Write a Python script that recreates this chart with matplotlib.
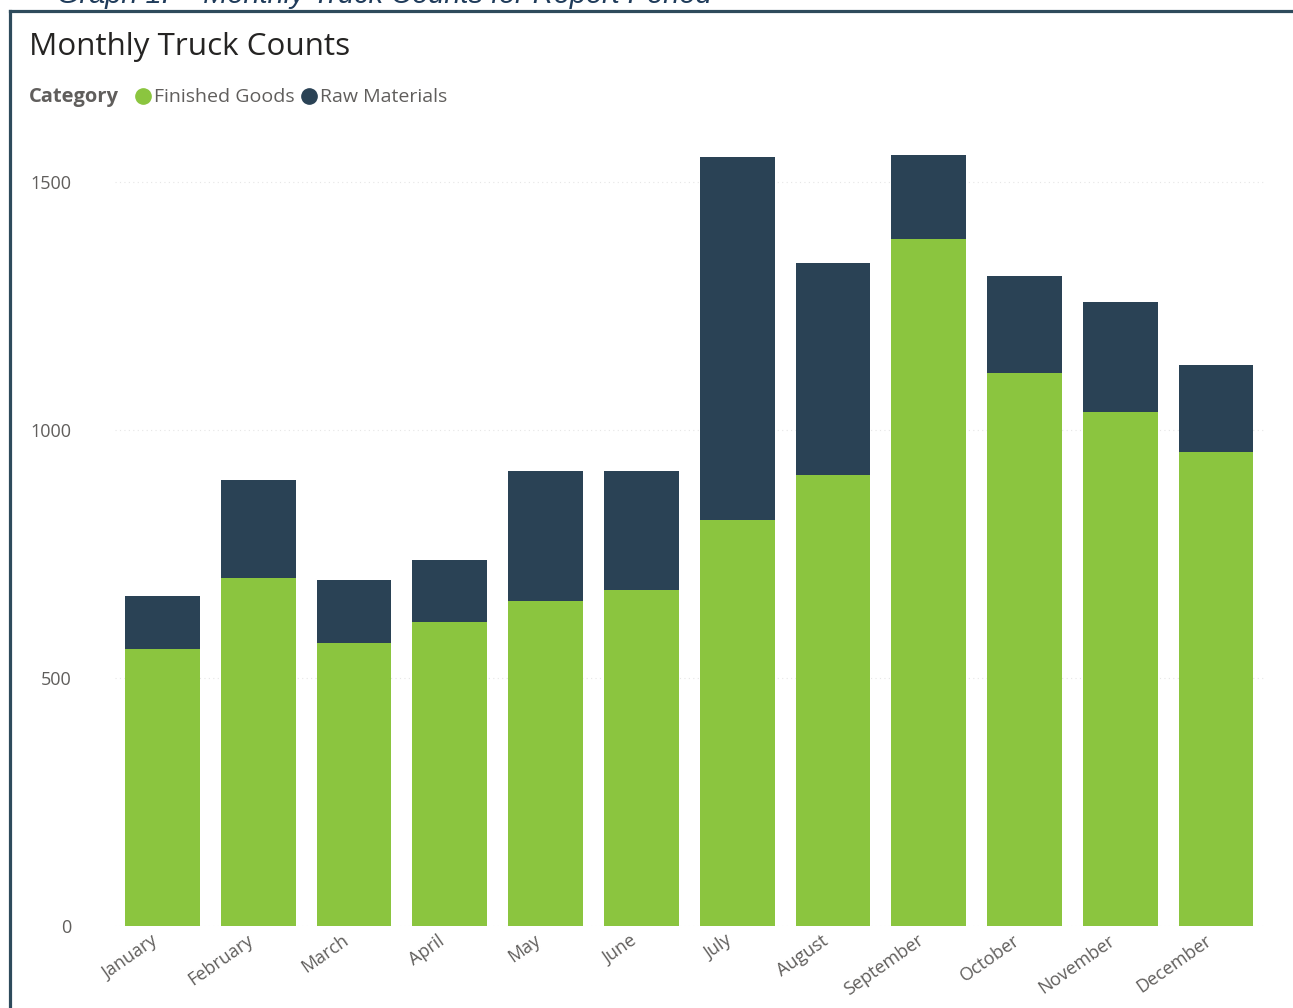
import matplotlib
matplotlib.use("Agg")
import matplotlib.pyplot as plt
from matplotlib.lines import Line2D
import matplotlib.transforms as mtransforms

months = ["January", "February", "March", "April", "May", "June",
          "July", "August", "September", "October", "November", "December"]
finished_goods = [558, 702, 571, 613, 655, 677, 819, 909, 1385, 1115, 1036, 956]
raw_materials = [107, 197, 127, 125, 262, 240, 731, 428, 169, 195, 222, 175]
y_ticks = [0, 500, 1000, 1500]

GREEN = "#8BC53F"
NAVY = "#2A4255"
TEXT = "#605E5C"
FRAME = "#2E4B5C"

plt.rcParams["font.family"] = ["Open Sans", "DejaVu Sans"]

W, H = 1293, 1008
fig = plt.figure(figsize=(W / 100, H / 100), dpi=100)
fig.patch.set_facecolor("white")

def fx(px):
    return px / W

def fy(py):
    return 1 - py / H

# plot area
left, right, top, bottom = 114.6, 1264.0, 140.0, 926.0
ax = fig.add_axes([fx(left), fy(bottom), fx(right - left), (bottom - top) / H])

x = list(range(len(months)))
ax.bar(x, finished_goods, width=0.78, color=GREEN, zorder=2)
ax.bar(x, raw_materials, width=0.78, bottom=finished_goods, color=NAVY, zorder=2)

ax.set_xlim(-0.5, len(months) - 0.5)
ax.set_ylim(0, (bottom - top) / 0.496)
ax.set_yticks(y_ticks)
ax.set_yticklabels([str(v) for v in y_ticks])
ax.grid(axis="y", color="#E6E6E6", linestyle=(0, (1, 3)), linewidth=0.8, zorder=0)
ax.set_axisbelow(True)

for s in ax.spines.values():
    s.set_visible(False)
ax.tick_params(axis="y", length=0, pad=31, labelsize=13, labelcolor=TEXT)
ax.tick_params(axis="x", length=0, pad=4, labelsize=13, labelcolor=TEXT)

ax.set_xticks(x)
ax.set_xticklabels(months, rotation=35, ha="right", va="top", rotation_mode="anchor")
offset = mtransforms.ScaledTranslation(-12 / 100, 0, fig.dpi_scale_trans)
for lbl in ax.get_xticklabels():
    lbl.set_transform(lbl.get_transform() + offset)

# report caption clipped by the top edge
fig.text(fx(57), fy(3), "Graph 1:  - Monthly Truck Counts for Report Period",
         family=["Liberation Sans", "DejaVu Sans"], style="italic",
         fontsize=20.9, color="#1F3B5A", va="baseline", ha="left")

# outer frame (top and left edges)
fig.add_artist(Line2D([fx(10), fx(W)], [fy(11), fy(11)], color=FRAME, linewidth=2.3,
                      transform=fig.transFigure))
fig.add_artist(Line2D([fx(10), fx(10)], [fy(11), fy(H)], color=FRAME, linewidth=2.3,
                      transform=fig.transFigure))

# title
fig.text(fx(29), fy(47), "Monthly Truck Counts", fontsize=22.6, color="#252423",
         va="center", ha="left")

# legend row
fig.text(fx(29), fy(97), "Category", fontsize=14.5, fontweight="bold", color=TEXT,
         va="center", ha="left")
fig.add_artist(Line2D([fx(143)], [fy(96)], marker="o", markersize=11, color=GREEN,
                      linestyle="none", transform=fig.transFigure))
fig.text(fx(154), fy(97), "Finished Goods", fontsize=14, color=TEXT,
         va="center", ha="left")
fig.add_artist(Line2D([fx(309)], [fy(96)], marker="o", markersize=11, color=NAVY,
                      linestyle="none", transform=fig.transFigure))
fig.text(fx(320), fy(97), "Raw Materials", fontsize=14, color=TEXT,
         va="center", ha="left")

fig.savefig("out.png", dpi=100, facecolor="white")
